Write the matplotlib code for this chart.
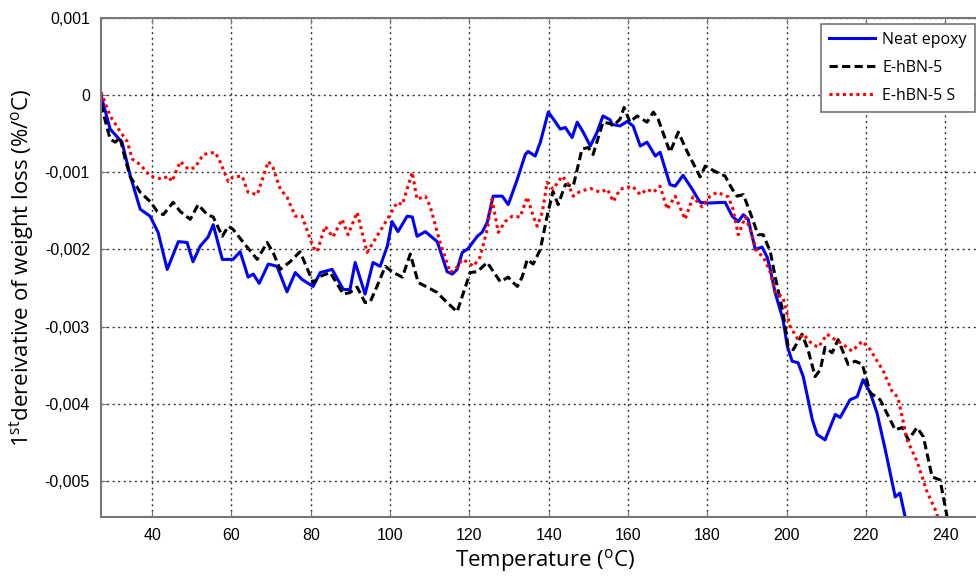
import matplotlib
matplotlib.use("Agg")
import matplotlib.pyplot as plt
import numpy as np
from matplotlib.ticker import FuncFormatter

plt.rcParams["font.family"] = ["Liberation Sans", "DejaVu Sans"]
plt.rcParams["mathtext.fontset"] = "custom"
plt.rcParams["mathtext.rm"] = "Open Sans"

# values, derivative in units of 1e-3 %/degC
neat_T = [27.1, 29.4, 32.4, 34.5, 37.0, 39.5, 41.5, 43.8, 46.6, 48.8, 50.3, 52.1, 54.1, 55.4,
          57.7, 60.4, 62.2, 64.2, 65.5, 67.0, 69.3, 71.5, 74.0, 76.1, 77.8, 80.6, 82.4, 85.4,
          88.2, 89.9, 91.2, 93.7, 95.7, 97.5, 99.3, 100.5, 102.0, 104.3, 105.6, 106.8, 108.9,
          111.9, 114.4, 115.7, 116.9, 118.2, 119.7, 122.0, 123.2, 124.5, 126.0, 128.3, 129.8,
          132.1, 134.1, 134.8, 136.6, 137.9, 139.9, 141.6, 142.9, 144.2, 145.9, 147.2, 148.7,
          150.5, 152.2, 153.7, 155.5, 156.0, 158.0, 159.8, 161.3, 163.1, 164.8, 166.9, 168.1,
          170.6, 171.9, 173.9, 176.2, 178.2, 180.0, 184.5, 186.3, 187.8, 189.1, 190.3, 192.1,
          193.8, 195.1, 195.9, 197.1, 199.1, 200.2, 201.4, 202.9, 204.2, 206.5, 207.7, 209.7,
          212.3, 213.5, 216.0, 217.8, 219.3, 221.1, 222.8, 224.9, 227.4, 228.6, 229.9, 230.7]
neat_v = [0.0, -0.44, -0.61, -1.05, -1.48, -1.57, -1.78, -2.26, -1.90, -1.91, -2.16, -1.96, -1.84, -1.68,
          -2.13, -2.13, -2.03, -2.36, -2.32, -2.44, -2.19, -2.22, -2.55, -2.30, -2.39, -2.48, -2.30, -2.26,
          -2.52, -2.52, -2.17, -2.58, -2.17, -2.22, -1.96, -1.64, -1.77, -1.57, -1.58, -1.83, -1.77,
          -1.90, -2.29, -2.32, -2.26, -2.04, -1.99, -1.83, -1.78, -1.65, -1.31, -1.31, -1.42,
          -1.09, -0.77, -0.73, -0.79, -0.61, -0.22, -0.34, -0.44, -0.42, -0.55, -0.35, -0.48,
          -0.66, -0.48, -0.27, -0.32, -0.38, -0.40, -0.34, -0.40, -0.66, -0.61, -0.79, -0.74,
          -1.16, -1.18, -1.04, -1.22, -1.39, -1.40, -1.39, -1.57, -1.64, -1.55, -1.61, -2.00,
          -1.97, -2.10, -2.26, -2.56, -2.91, -3.26, -3.45, -3.47, -3.65, -4.21, -4.40, -4.47,
          -4.14, -4.18, -3.95, -3.91, -3.69, -3.86, -4.12, -4.60, -5.21, -5.16, -5.47, -5.64]

hbn_T = [27.1, 29.4, 30.7, 31.9, 33.2, 34.5, 37.0, 39.5, 41.3, 42.8, 45.3, 47.1, 49.6, 51.6, 53.9,
         55.4, 57.7, 59.2, 60.4, 63.0, 66.5, 69.0, 70.5, 72.3, 74.8, 77.3, 80.6, 82.4, 84.9, 88.2,
         89.9, 91.7, 93.7, 95.0, 96.7, 98.8, 100.8, 103.1, 105.1, 107.1, 109.4, 111.9, 113.6,
         116.9, 120.2, 122.0, 124.5, 127.8, 129.8, 130.8, 132.1, 133.3, 134.6, 136.1, 137.9,
         139.6, 141.1, 142.4, 144.2, 146.2, 148.4, 150.0, 151.2, 153.7, 155.5, 156.3, 158.0,
         159.0, 160.5, 162.3, 164.8, 166.4, 167.6, 170.6, 172.7, 174.9, 178.2, 179.5, 182.0,
         184.5, 186.3, 187.5, 189.1, 190.8, 192.8, 194.1, 195.9, 197.1, 199.1, 200.4, 201.7,
         203.9, 205.4, 207.2, 208.5, 209.7, 211.5, 213.0, 215.5, 217.3, 219.1, 221.1, 223.6,
         227.4, 229.2, 230.7, 232.9, 234.5, 236.7, 238.7, 240.5, 241.3]
hbn_v = [-0.12, -0.57, -0.61, -0.55, -0.83, -1.06, -1.26, -1.38, -1.51, -1.55, -1.39, -1.51, -1.61, -1.42, -1.55,
         -1.58, -1.83, -1.70, -1.74, -1.91, -2.13, -1.91, -2.04, -2.26, -2.16, -2.03, -2.43, -2.35, -2.30, -2.58,
         -2.56, -2.49, -2.69, -2.68, -2.48, -2.22, -2.30, -2.36, -2.06, -2.43, -2.49, -2.56, -2.65,
         -2.81, -2.30, -2.29, -2.17, -2.42, -2.36, -2.42, -2.48, -2.36, -2.13, -2.19, -2.00,
         -1.57, -1.25, -1.42, -1.16, -1.18, -0.70, -0.68, -0.77, -0.35, -0.37, -0.40, -0.31,
         -0.16, -0.35, -0.27, -0.35, -0.22, -0.31, -0.74, -0.48, -0.73, -1.06, -0.92, -0.99,
         -1.05, -1.22, -1.31, -1.29, -1.52, -1.81, -1.81, -2.03, -2.35, -2.82, -3.26, -3.30,
         -3.10, -3.30, -3.65, -3.56, -3.27, -3.34, -3.17, -3.49, -3.45, -3.49, -3.86, -3.95,
         -4.34, -4.31, -4.47, -4.31, -4.43, -4.95, -4.99, -5.47, -5.70]

hbn_s_T = [27.1, 29.4, 31.9, 33.7, 35.0, 37.0, 39.5, 42.5, 44.0, 45.0, 47.1, 49.1, 50.8, 52.9, 55.9,
           57.1, 59.2, 60.4, 62.7, 64.2, 66.5, 69.3, 70.5, 72.3, 74.0, 76.1, 77.8, 80.6, 81.6, 83.6,
           85.6, 87.9, 89.4, 91.7, 94.2, 96.7, 99.3, 101.8, 103.1, 105.6, 106.8, 108.9, 110.1,
           112.6, 115.2, 116.9, 118.2, 119.7, 121.0, 122.7, 124.5, 125.7, 127.3, 129.0, 130.8,
           132.8, 134.6, 136.1, 137.1, 138.4, 139.6, 141.1, 143.4, 144.7, 146.2, 147.9, 150.5,
           153.0, 154.8, 156.3, 158.0, 161.1, 163.1, 164.8, 166.4, 168.1, 169.9, 171.9, 174.4,
           176.4, 178.7, 180.7, 182.5, 185.3, 186.5, 187.8, 189.6, 190.8, 192.6, 194.1, 195.9,
           197.1, 199.1, 200.9, 202.9, 204.2, 206.5, 208.0, 210.2, 212.2, 214.2, 216.5, 219.1,
           221.1, 224.4, 226.6, 228.1, 230.4, 232.9, 235.4, 237.9, 238.7]
hbn_s_v = [0.04, -0.27, -0.47, -0.60, -0.83, -0.90, -1.05, -1.09, -1.05, -1.12, -0.86, -0.96, -0.94, -0.77, -0.74,
           -0.86, -1.12, -1.06, -1.05, -1.26, -1.29, -0.86, -0.94, -1.22, -1.32, -1.57, -1.57, -1.97, -2.03, -1.70,
           -1.84, -1.61, -1.81, -1.52, -2.04, -1.83, -1.61, -1.39, -1.42, -1.00, -1.35, -1.31, -1.44,
           -1.91, -2.30, -2.23, -2.13, -2.17, -2.22, -2.10, -1.74, -1.35, -1.78, -1.64, -1.57,
           -1.58, -1.32, -1.57, -1.70, -1.52, -1.13, -1.22, -1.05, -1.13, -1.31, -1.25, -1.21,
           -1.26, -1.22, -1.38, -1.22, -1.18, -1.29, -1.22, -1.26, -1.18, -1.48, -1.31, -1.61,
           -1.32, -1.45, -1.31, -1.26, -1.32, -1.48, -1.81, -1.58, -1.74, -2.04, -2.09, -2.30,
           -2.56, -2.62, -3.00, -3.17, -3.10, -3.23, -3.27, -3.10, -3.17, -3.23, -3.32, -3.19,
           -3.30, -3.58, -3.84, -3.92, -4.47, -4.75, -5.14, -5.42, -5.64]

labels = ["Neat epoxy", "E-hBN-5", "E-hBN-5 S"]
y_ticks = [-0.005, -0.004, -0.003, -0.002, -0.001, 0, 0.001]
x_ticks = [40, 60, 80, 100, 120, 140, 160, 180, 200, 220, 240]

fig = plt.figure(figsize=(9.76, 5.76), dpi=100, facecolor="white")
ax = fig.add_axes([101 / 976, 59 / 576, 889 / 976, 499 / 576])

ax.plot(neat_T, np.array(neat_v) * 1e-3, color="#0000ff", lw=2.2, label=labels[0])
ax.plot(hbn_T, np.array(hbn_v) * 1e-3, color="black", lw=2.2, ls=(0, (2.7, 1.4)), label=labels[1])
ax.plot(hbn_s_T, np.array(hbn_s_v) * 1e-3, color="#ff0000", lw=2.2, ls=(0, (1, 1.2)), label=labels[2])

ax.set_xlim(27.1, 251.3)
ax.set_ylim(-0.00547, 0.001)
ax.set_xticks(x_ticks)
ax.set_yticks(y_ticks)
ax.yaxis.set_major_formatter(FuncFormatter(lambda v, p: "0" if abs(v) < 1e-9 else f"{v:.3f}".replace(".", ",")))

ax.grid(True, color="#333333", ls=(0, (1.5, 2.5)), lw=1.0)
ax.tick_params(direction="in", length=4, color="#777777", labelsize=11.5, top=True, pad=8)
for s in ["left", "bottom", "top"]:
    ax.spines[s].set_color("#777777")
    ax.spines[s].set_linewidth(1.5)
ax.spines["right"].set_visible(False)

ax.set_ylabel(r"1$^{\mathrm{st}}$dereivative of weight loss (%/$^{\mathrm{o}}$C)",
              fontsize=16, family="Open Sans", labelpad=6)
ax.set_xlabel(r"Temperature ($^{\mathrm{o}}$C)", fontsize=16, family="Open Sans", labelpad=3)

leg = ax.legend(loc="upper left", bbox_to_anchor=(821 / 976, 1 - 24 / 576), bbox_transform=fig.transFigure,
                prop={"family": "Open Sans", "size": 11.5}, fancybox=False, framealpha=1,
                edgecolor="#777777", handlelength=2.9, handletextpad=0.45,
                borderaxespad=0, labelspacing=0.75, borderpad=0.5)
leg.get_frame().set_linewidth(1.2)

fig.savefig("out.png", dpi=100)
